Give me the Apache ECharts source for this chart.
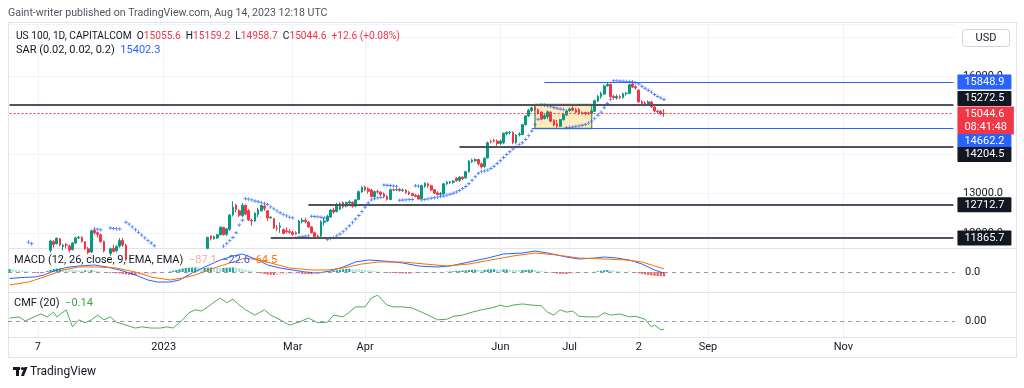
<!DOCTYPE html>
<html><head><meta charset="utf-8">
<script src="https://cdn.jsdelivr.net/npm/echarts@6/dist/echarts.min.js"></script>
<style>html,body{margin:0;padding:0;background:#fff}#c{width:1024px;height:388px}</style>
</head><body><div id="c"></div>
<script>
const FONT = 'Roboto, "Liberation Sans", sans-serif';

// ---- calendar / ticks ----
const firstDay = '2022-10-25';
const barCount = 301;
const closedDays = ['2023-01-02'];
const timeTicks = [['2022-11-07','7'],['2023-01-03','2023'],['2023-03-01','Mar'],['2023-04-03','Apr'],
  ['2023-06-01','Jun'],['2023-07-03','Jul'],['2023-08-02','2'],['2023-09-01','Sep'],['2023-11-01','Nov']];
const priceLabelsShown = [12000, 13000, 16000];

// ---- price bars [open, close, low, high] ----
const ohlc = [
[11300,11450,11250,11500],[11420,11300,11250,11480],[11300,11200,11100,11380],[11180,11450,11150,11500],
[11450,11400,11350,11520],[11420,11280,11200,11480],[11300,10890,10850,11420],[10900,10690,10620,10950],
[10720,10830,10500,10900],[10850,10970,10800,11020],[10980,11060,10850,11200],[11020,10790,10760,11080],
[10800,11570,10780,11600],[11550,11790,11500,11820],[11780,11700,11620,11810],[11720,11860,11700,11880],
[11850,11690,11650,11870],[11650,11680,11550,11720],[11690,11680,11600,11740],[11660,11560,11500,11700],
[11570,11740,11550,11760],[11740,11870,11720,11900],[11870,11880,11840,11920],[11880,11780,11750,11910],
[11770,11590,11560,11790],[11590,11500,11450,11640],[11510,12050,11480,12080],[12060,12000,11950,12090],
[12000,11960,11880,12030],[11950,11780,11740,11980],[11780,11540,11500,11800],[11540,11460,11380,11580],
[11470,11590,11420,11620],[11600,11520,11500,11700],[11540,11650,11500,11680],[11660,11800,11620,11860],
[11800,11690,11640,11870],[11680,11320,11280,11720],[11310,11200,11100,11400],[11200,11050,10980,11260],
[11050,11030,10950,11150],[11050,11190,11000,11250],[11180,10910,10750,11200],[10920,10990,10880,11020],
[10990,10980,10950,11010],[10970,10830,10780,11030],[10830,10700,10680,10900],[10720,10970,10700,11000],
[10950,10940,10830,10980],[10950,10860,10700,11050],[10880,10910,10750,11000],[10890,10740,10700,10900],
[10760,11040,10700,11100],[11060,11110,11050,11270],[11100,11180,11060,11200],[11190,11380,11170,11390],
[11400,11450,11300,11500],[11400,11540,11380,11560],[11540,11560,11520,11590],[11560,11550,11480,11600],
[11560,11410,11400,11590],[11390,11300,11250,11420],[11320,11580,11300,11600],[11600,11880,11580,11900],
[11920,11850,11800,11930],[11850,11900,11820,11930],[11870,11950,11840,11970],[11950,12140,11930,12160],
[12140,11950,11930,12150],[11960,12100,11920,12120],[12090,12450,12050,12480],[12460,12650,12420,12800],
[12700,12590,12520,12730],[12560,12450,12400,12600],[12440,12700,12400,12760],[12700,12480,12450,12720],
[12560,12330,12300,12610],[12320,12300,12180,12360],[12300,12500,12280,12520],[12470,12580,12400,12640],
[12560,12700,12540,12720],[12680,12620,12560,12730],[12560,12380,12300,12580],[12380,12400,12360,12420],
[12360,12120,12100,12380],[12120,12110,12040,12200],[12140,12170,12000,12260],[12080,11980,11960,12110],
[12050,12030,11990,12140],[12030,12010,11980,12090],[12010,11960,11920,12060],[12000,11970,11950,12040],
[11990,12300,11970,12330],[12290,12320,12240,12380],[12320,12280,12240,12380],[12270,12150,12120,12300],
[12150,12000,11980,12170],[12000,11900,11880,12020],[11920,11880,11840,11950],[11920,12280,11870,12320],
[12270,12300,12180,12380],[12300,12420,12280,12460],[12400,12580,12380,12600],[12580,12530,12480,12640],
[12540,12720,12520,12760],[12600,12740,12580,12780],[12770,12660,12620,12800],[12680,12770,12650,12800],
[12760,12790,12720,12830],[12780,12680,12640,12800],[12680,12840,12650,12860],[12850,13050,12830,13080],
[13040,13160,13020,13190],[13170,13100,13060,13200],[13120,13060,13000,13160],[13090,12920,12900,13120],
[12920,13050,12880,13080],[13050,13040,13000,13100],[13040,12980,12940,13060],[12990,12920,12880,13030],
[12930,12850,12820,12960],[12850,13100,12830,13130],[13100,13090,13060,13130],[13090,13100,13060,13140],
[13110,13080,13050,13140],[13080,13090,13040,13130],[13090,13030,12990,13110],[13030,12990,12960,13070],
[13000,12950,12930,13020],[12960,12930,12900,12990],[12950,12860,12850,12980],[12870,13200,12860,13230],
[13190,13260,13150,13290],[13250,13200,13150,13280],[13200,13090,13070,13230],[13100,13010,12990,13120],
[13020,12980,12960,13060],[12980,13000,12940,13040],[12990,13250,12970,13270],[13250,13290,13220,13320],
[13280,13300,13240,13330],[13290,13320,13250,13340],[13390,13330,13300,13420],[13340,13420,13300,13450],
[13420,13380,13340,13440],[13400,13560,13380,13580],[13560,13830,13540,13860],[13820,13860,13780,13890],
[13840,13870,13800,13900],[13870,13760,13720,13890],[13760,13680,13640,13790],[13690,13900,13660,13930],
[13910,14300,13890,14330],[14330,14320,14280,14380],[14360,14340,14300,14400],[14340,14280,14220,14380],
[14280,14340,14240,14380],[14300,14540,14260,14560],[14530,14560,14490,14590],[14560,14570,14510,14600],
[14560,14300,14260,14590],[14300,14490,14270,14520],[14500,14520,14460,14570],[14510,14760,14490,14780],
[14760,14980,14740,15000],[14980,15130,14960,15160],[15120,15190,15080,15220],[15200,15140,15100,15260],
[15140,15060,15020,15170],[15080,14900,14880,15100],[14920,14990,14890,15050],[14960,15090,14900,15120],
[15080,14850,14820,15100],[14870,14750,14720,14900],[14780,14720,14680,14880],[14720,14890,14700,14910],
[14890,15020,14860,15050],[15010,15110,14980,15150],[15120,15160,15080,15200],[15180,15130,15100,15230],
[15140,15080,15050,15190],[15150,15040,15010,15180],[15040,15060,15020,15100],[15070,15040,15000,15090],
[15060,15040,15010,15090],[15050,15110,15020,15150],[15100,15370,15090,15400],[15360,15480,15340,15520],
[15480,15560,15420,15600],[15540,15750,15520,15780],[15750,15790,15730,15830],[15790,15470,15450,15810],
[15480,15450,15400,15520],[15440,15480,15400,15530],[15480,15450,15410,15520],[15450,15550,15430,15580],
[15550,15560,15500,15600],[15560,15780,15540,15800],[15800,15720,15700,15850],[15730,15700,15650,15760],
[15640,15340,15320,15660],[15340,15300,15260,15380],[15310,15290,15250,15360],[15290,15340,15260,15380],
[15340,15220,15190,15370],[15210,15110,15080,15230],[15100,15090,15050,15140],[15100,15040,15010,15130],
[15055.6,15044.6,14958.7,15159.2]
];

// ---- Parabolic SAR ----
const sar = [
11250,11280,11300,11320,11340,11360,
11760,11720,11600,11520,11450,11380,
10620,10660,10720,10790,10860,10930,11000,11060,11110,11160,11210,11260,11300,11340,11380,
12100,12090,12075,
11420,11440,
12120,12110,12100,12095,
11450,
12270,12220,12150,12080,12010,11940,11870,11800,11740,11670,11590,11510,11430,11360,11300,11240,
10700,10720,10750,10780,10820,10870,10920,10970,11020,11070,11120,11200,11300,11420,11550,
11660,11730,11800,11880,12000,12200,12320,
12870,12860,12840,12810,12790,12770,12750,12720,12660,12610,12560,12510,12470,12430,12400,12380,
11880,11890,11900,11910,11920,
12420,12415,12405,12395,12385,
11830,11850,11880,11920,11970,12030,12100,12180,12260,12350,12440,12540,12650,12760,12840,12870,12890,12900,
13220,13215,13205,13195,13185,
12830,12835,12840,12845,12850,
13200,13190,
12840,12850,12865,12880,12895,12910,12925,12940,12960,12985,13010,13040,13080,13130,13180,13250,13340,13430,13520,
13560,13580,13600,13640,13700,13770,13840,13920,14000,14070,14140,14200,14250,14300,14380,14480,14600,14760,14900,
15270,15260,15240,15220,15200,15180,15160,15150,
14680,14690,14700,14715,14730,14745,14765,14800,14850,14920,15000,15080,15190,15300,15400,
15880,15878,15875,15870,15866,15860,15855,15830,15800,15740,15690,15640,15590,15530,15480,15440,15402.3
];

// ---- MACD (bar index, value) ----
const macdLine = [[0,-130],[4,-110],[8,-100],[11,-60],[14,20],[18,90],[22,120],[27,140],[31,100],[35,40],[40,-60],
[44,-160],[47,-200],[51,-200],[54,-160],[58,-20],[62,100],[67,240],[71,320],[74,360],[79,240],[82,140],[86,80],
[90,40],[94,0],[98,-20],[102,20],[106,100],[110,200],[114,240],[119,220],[125,180],[130,120],[136,100],[140,120],
[146,200],[152,280],[157,360],[163,380],[167,420],[171,380],[177,300],[181,260],[186,280],[189,300],[193,280],
[197,240],[201,160],[205,40],[208,-22.6]];
const signalLine = [[0,-260],[6,-200],[11,-100],[17,40],[22,100],[28,100],[34,80],[40,0],[45,-100],[51,-160],
[55,-120],[59,-60],[65,80],[71,200],[75,280],[79,240],[83,180],[89,80],[96,40],[101,40],[106,80],[112,160],
[117,200],[125,200],[132,160],[139,120],[146,160],[153,240],[160,320],[167,380],[174,340],[181,280],[189,260],
[196,240],[201,200],[205,120],[208,64.5]];
const macdHist = [
60,55,50,40,30,20,10,5,
-10,-20,-25,-20,
20,45,60,70,72,70,65,55,45,
40,35,30,30,28,35,30,
20,10,0,-10,-15,-20,-25,-30,
-40,-50,-55,-60,-62,-60,-58,-55,-50,-45,-40,-30,
-20,-10,0,10,25,40,55,70,80,85,
90,90,85,80,82,88,90,85,80,
78,80,85,90,92,85,75,65,
50,35,20,5,-10,-25,-40,-50,-55,-60,
-60,-58,-55,-50,-45,-40,-38,-35,-38,-40,-42,
-45,-45,-40,-30,-20,
-5,10,25,35,45,55,60,62,60,58,55,50,
45,40,30,20,10,0,-10,-15,
-18,-20,-22,-25,-28,-30,-32,-30,-28,-25,-22,-20,-18,-15,-12,-8,-5,
0,5,10,15,20,25,30,35,40,45,48,45,40,
42,50,55,55,50,48,50,52,50,45,40,38,40,42,45,45,40,
30,20,10,0,-10,-20,-30,-35,-38,-40,-38,-35,-30,-25,-20,-15,-10,-5,
5,15,25,35,40,38,30,20,12,5,0,5,0,-10,
-25,-40,-50,-60,-68,-75,-80,-85,-87.1
];

// ---- CMF (bar index, value) ----
const cmfLine = [[0,0.05],[3,0.07],[5,0.0],[7,0.05],[10,0.12],[12,0.07],[14,0.15],[15,0.07],[18,0.19],[20,-0.10],
[22,0.02],[24,-0.03],[26,0.02],[28,0.10],[30,0.02],[32,0.07],[34,-0.02],[37,-0.07],[40,-0.12],[42,-0.10],[45,-0.12],
[48,-0.12],[50,-0.10],[52,-0.12],[55,0.02],[57,0.14],[59,0.19],[61,0.17],[63,0.24],[65,0.32],[67,0.39],[69,0.31],
[71,0.37],[73,0.27],[75,0.19],[78,0.10],[81,0.19],[83,0.10],[86,0.02],[89,-0.07],[92,-0.02],[95,0.05],[98,-0.03],
[101,-0.02],[103,0.10],[106,0.07],[108,0.15],[110,0.24],[113,0.24],[115,0.39],[117,0.44],[120,0.27],[122,0.24],
[125,0.24],[128,0.22],[131,0.15],[133,0.10],[136,0.02],[139,0.03],[141,0.08],[144,0.10],[147,0.15],[150,0.19],
[153,0.22],[156,0.27],[158,0.24],[160,0.27],[163,0.29],[166,0.27],[169,0.26],[171,0.15],[173,0.10],[175,0.19],
[177,0.15],[179,0.17],[181,0.08],[184,0.07],[187,0.07],[189,0.14],[191,0.10],[194,0.12],[197,0.07],[199,0.08],
[202,0.03],[204,-0.10],[205,-0.07],[207,-0.15],[208,-0.14]];

// ---- drawn levels ----
const levelValues = [15848.9, 15272.5, 14662.2, 14204.5, 12712.7, 11865.7];
const levelStart  = [170, 0, 166, 143, 95, 83];
const levelKind   = ['blue', 'dark', 'blue', 'dark', 'dark', 'dark'];
const lastPrice = 15044.6;
const countdown = '08:41:48';
const boxFrom = 167, boxTo = 185, boxTop = 15272.5, boxBottom = 14662.2;

// label nudges (px) so the price-scale boxes do not overlap, as on the original scale
const labelNudge = [0, -6, 13, 8, 0, 0];

// ---- build ----
function buildDates() {
  const out = [];
  const d = new Date(firstDay + 'T00:00:00Z');
  while (out.length < barCount) {
    const wd = d.getUTCDay();
    const s = d.toISOString().slice(0, 10);
    if (wd !== 0 && wd !== 6 && closedDays.indexOf(s) < 0) out.push(s);
    d.setUTCDate(d.getUTCDate() + 1);
  }
  return out;
}
const dates = buildDates();
const tickMap = new Map(timeTicks);
const lastIdx = dates.length - 1;

const UP = '#089981', DOWN = '#F23645', BLUE = '#2962FF', DARK = '#131722';
const EN = '\u2002';

const boxLabel = (bg) => ({ show: true, position: 'end', distance: 4, color: '#fff', backgroundColor: bg,
  padding: [1, 7], fontSize: 11, lineHeight: 13, fontFamily: FONT, borderRadius: 1 });

const levelLines = levelValues.map((v, k) => {
  const col = levelKind[k] === 'blue' ? BLUE : '#50535E';
  const label = Object.assign(boxLabel(levelKind[k] === 'blue' ? BLUE : DARK),
    { formatter: v.toFixed(1), offset: [0, labelNudge[k]] });
  const ls = { color: col, width: levelKind[k] === 'blue' ? 1 : 2, type: 'solid' };
  return [{ coord: [levelStart[k], v], lineStyle: ls, label }, { coord: [lastIdx, v] }];
});

function histColor(i) {
  const v = macdHist[i], p = i > 0 ? macdHist[i - 1] : v;
  if (v >= 0) return v >= p ? '#26A69A' : '#B2DFDB';
  return v < p ? '#FF5252' : '#FFCDD2';
}

const xAxes = [0, 1, 2].map(g => ({
  type: 'category', gridIndex: g, data: dates, boundaryGap: true,
  axisLine: { show: false }, axisTick: { show: false },
  axisLabel: { show: g === 2, interval: (i, v) => tickMap.has(v), formatter: v => tickMap.get(v) || '',
    color: DARK, fontSize: 11, margin: 5, fontFamily: FONT },
  splitLine: { show: true, interval: (i, v) => tickMap.has(v), alignWithLabel: true, lineStyle: { color: '#f0f3fa', width: 1 } }
}));

const rt = (fill, size) => ({ fill: fill, font: (size || 11) + 'px ' + FONT });

const option = {
  animation: false,
  backgroundColor: '#ffffff',
  grid: [
    { left: 8, right: 69, top: 24, height: 224 },
    { left: 8, right: 69, top: 248, height: 44 },
    { left: 8, right: 69, top: 292, height: 45 }
  ],
  xAxis: xAxes,
  yAxis: [
    { type: 'value', gridIndex: 0, position: 'right', min: 11611, max: 17330, minInterval: 1000, maxInterval: 1000,
      axisLine: { show: false }, axisTick: { show: false },
      axisLabel: { showMinLabel: false, showMaxLabel: false, color: DARK, fontSize: 11, margin: 8, fontFamily: FONT,
        formatter: v => priceLabelsShown.indexOf(v) >= 0 ? v.toFixed(1) : '' },
      splitLine: { lineStyle: { color: '#f0f3fa' } } },
    { type: 'value', gridIndex: 1, position: 'right', min: -400, max: 480,
      axisLine: { show: false }, axisTick: { show: false }, splitLine: { show: false },
      axisLabel: { showMinLabel: false, showMaxLabel: false, color: DARK, fontSize: 11, margin: 10, fontFamily: FONT,
        formatter: v => Math.abs(v) < 1e-9 ? '0.0' : '' } },
    { type: 'value', gridIndex: 2, position: 'right', min: -0.272, max: 0.493,
      axisLine: { show: false }, axisTick: { show: false }, splitLine: { show: false },
      axisLabel: { showMinLabel: false, showMaxLabel: false, color: DARK, fontSize: 11, margin: 10, fontFamily: FONT,
        formatter: v => Math.abs(v) < 1e-9 ? '0.00' : '' } }
  ],
  series: [
    { type: 'line', xAxisIndex: 0, yAxisIndex: 0, z: 3, silent: true, showSymbol: false, symbol: 'none',
      data: [[0, lastPrice], [lastIdx, lastPrice]],
      lineStyle: { color: '#F23645', width: 1, type: [2, 2] },
      endLabel: { show: true, distance: 4, color: '#fff', backgroundColor: DOWN, padding: [1, 7], fontSize: 11,
        lineHeight: 13, fontFamily: FONT, offset: [0, 7], formatter: lastPrice.toFixed(1) + '\n' + countdown } },
    { type: 'candlestick', xAxisIndex: 0, yAxisIndex: 0, data: ohlc, clip: true, barWidth: '70%',
      itemStyle: { color: UP, color0: DOWN, borderColor: UP, borderColor0: DOWN, borderWidth: 1 },
      markLine: { silent: true, symbol: ['none', 'none'], animation: false, data: levelLines },
      markArea: { silent: true, data: [[
        { coord: [boxFrom, boxTop], itemStyle: { color: 'rgba(255, 210, 110, 0.45)', borderColor: '#5f9f4f', borderWidth: 1.5 } },
        { coord: [boxTo, boxBottom] }]] } },
    { type: 'scatter', xAxisIndex: 0, yAxisIndex: 0, data: sar, clip: true, symbolSize: 3.6,
      symbol: 'path://M1.5,0h1v1.5h1.5v1h-1.5v1.5h-1v-1.5h-1.5v-1h1.5z',
      itemStyle: { color: BLUE } },
    { type: 'bar', xAxisIndex: 1, yAxisIndex: 1, barWidth: '70%',
      data: macdHist.map((v, i) => ({ value: v, itemStyle: { color: histColor(i) } })),
      markLine: { silent: true, symbol: ['none', 'none'], label: { show: false },
        lineStyle: { color: '#9598A1', type: [4, 4], width: 1 }, data: [{ yAxis: 0 }] } },
    { type: 'line', xAxisIndex: 1, yAxisIndex: 1, data: macdLine, showSymbol: false, lineStyle: { color: BLUE, width: 1 } },
    { type: 'line', xAxisIndex: 1, yAxisIndex: 1, data: signalLine, showSymbol: false, lineStyle: { color: '#FF6D00', width: 1 } },
    { type: 'line', xAxisIndex: 2, yAxisIndex: 2, data: cmfLine, showSymbol: false, lineStyle: { color: '#4CAF50', width: 1 },
      markLine: { silent: true, symbol: ['none', 'none'], label: { show: false },
        lineStyle: { color: '#9598A1', type: [4, 4], width: 1 }, data: [{ yAxis: 0 }] } }
  ],
  graphic: [
    { type: 'rect', shape: { x: 8.5, y: 22.5, width: 1008, height: 335 }, style: { fill: 'none', stroke: '#e0e3eb' }, z: 1 },
    { type: 'line', shape: { x1: 8, y1: 248.5, x2: 1016, y2: 248.5 }, style: { stroke: '#e0e3eb' }, z: 1 },
    { type: 'line', shape: { x1: 8, y1: 292.5, x2: 1016, y2: 292.5 }, style: { stroke: '#e0e3eb' }, z: 1 },
    { type: 'line', shape: { x1: 8, y1: 337.5, x2: 1016, y2: 337.5 }, style: { stroke: '#e0e3eb' }, z: 1 },
    { type: 'text', x: 8, y: 13, z: 10, style: { text: 'Gaint-writer published on TradingView.com, Aug 14, 2023 12:18 UTC',
      fill: '#50535E', font: '10.6px ' + FONT, verticalAlign: 'middle' } },
    { type: 'text', x: 16, y: 36, z: 10, style: {
      text: '{n|US 100, 1D, CAPITALCOM}  {n|O}{r|15055.6}  {n|H}{r|15159.2}  {n|L}{r|14958.7}  ' +
            '{n|C}{r|15044.6}  {r|+12.6 (+0.08%)}',
      font: '10.2px ' + FONT, verticalAlign: 'middle', rich: { n: rt(DARK, 10.2), r: rt(DOWN, 10.2) } } },
    { type: 'text', x: 16, y: 50, z: 10, style: {
      text: '{n|SAR (0.02, 0.02, 0.2)}' + EN + '{b|15402.3}', font: '11px ' + FONT, verticalAlign: 'middle',
      rich: { n: rt(DARK), b: rt(BLUE) } } },
    { type: 'rect', z: 10, shape: { x: 962.5, y: 29.5, width: 47, height: 17, r: 3 }, style: { fill: '#fff', stroke: '#d1d4dc' } },
    { type: 'text', x: 986, y: 38, z: 11, style: { text: 'USD', fill: DARK, font: '11px ' + FONT, align: 'center', verticalAlign: 'middle' } },
    { type: 'text', x: 14, y: 260, z: 10, style: {
      text: '{n|MACD (12, 26, close, 9, EMA, EMA)}' + EN + '{h|−87.1}' + EN + '{m|−22.6}' + EN + '{s|64.5}',
      font: '11px ' + FONT, verticalAlign: 'middle',
      rich: { n: rt(DARK), h: rt('#F7A8AD'), m: rt(BLUE), s: rt('#FF6D00') } } },
    { type: 'text', x: 14, y: 303, z: 10, style: {
      text: '{n|CMF (20)}' + EN + '{g|−0.14}', font: '11px ' + FONT, verticalAlign: 'middle',
      rich: { n: rt(DARK), g: rt('#43A047') } } },
    { type: 'rect', z: 10, shape: { x: 13, y: 367, width: 7, height: 3 }, style: { fill: DARK } },
    { type: 'rect', z: 10, shape: { x: 16, y: 367, width: 3, height: 9 }, style: { fill: DARK } },
    { type: 'circle', z: 10, shape: { cx: 22.5, cy: 368.5, r: 1.6 }, style: { fill: DARK } },
    { type: 'polygon', z: 10, shape: { points: [[21, 376], [24.5, 367], [27.5, 367], [24, 376]] }, style: { fill: DARK } },
    { type: 'text', x: 30, y: 372, z: 10, style: { text: 'TradingView', fill: DARK, font: '12px ' + FONT, verticalAlign: 'middle' } }
  ]
};

const chart = echarts.init(document.getElementById('c'), null, { renderer: 'canvas' });
chart.setOption(option);
</script></body></html>
